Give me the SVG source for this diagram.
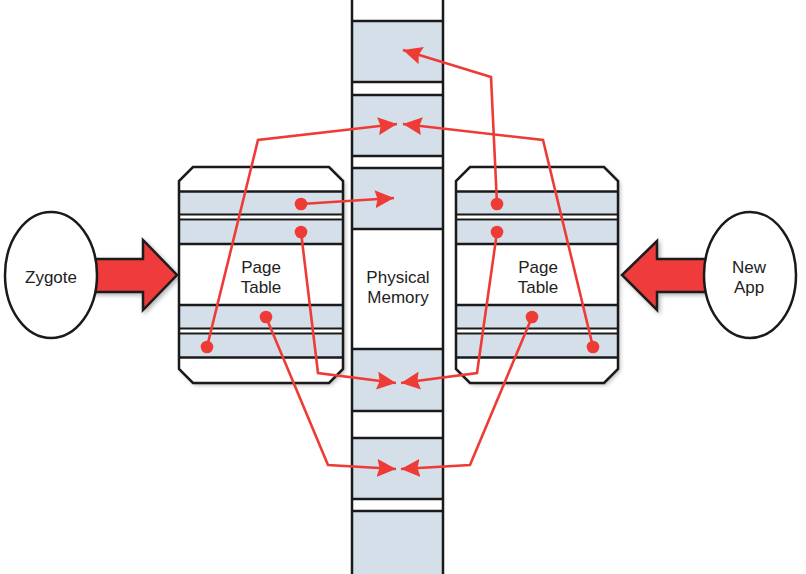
<svg xmlns="http://www.w3.org/2000/svg" width="806" height="574" viewBox="0 0 806 574">
<defs>
<style>
.blk{fill:none;stroke:#1a1a1a;stroke-width:2.5}
.ln{stroke:#1a1a1a;stroke-width:2.5}
.ln2{stroke:#1a1a1a;stroke-width:2}
.blue{fill:#d4dfea}
.wh{fill:#ffffff}
.txt{font-family:"Liberation Sans",Arial,sans-serif;font-size:17px;fill:#222;text-anchor:middle}
.con{fill:none;stroke:#ee3b35;stroke-width:2.6;stroke-linejoin:miter}
.dot{fill:#ee3b35}
.big{fill:#ef3b3a;stroke:#1a1a1a;stroke-width:2.5;stroke-linejoin:miter}
</style>
<marker id="ah" markerUnits="userSpaceOnUse" markerWidth="20" markerHeight="18" viewBox="0 0 20 18" refX="19" refY="9" orient="auto">
<path d="M0,0 L19,9 L0,18 L2.5,9 Z" fill="#ee3b35"/>
</marker>
<filter id="sh" x="-10%" y="-10%" width="130%" height="130%">
<feDropShadow dx="2" dy="2" stdDeviation="2" flood-color="#000" flood-opacity="0.3"/>
</filter>
</defs>

<g id="physical-memory">
<rect x="352" y="0" width="91" height="574" class="wh"/>
<rect x="352" y="21" width="91" height="61" class="blue"/>
<rect x="352" y="95" width="91" height="61" class="blue"/>
<rect x="352" y="168" width="91" height="61" class="blue"/>
<rect x="352" y="349" width="91" height="62" class="blue"/>
<rect x="352" y="438" width="91" height="61" class="blue"/>
<rect x="352" y="511" width="91" height="63" class="blue"/>
<g class="ln">
<line x1="352" y1="21" x2="443" y2="21"/>
<line x1="352" y1="82" x2="443" y2="82"/>
<line x1="352" y1="95" x2="443" y2="95"/>
<line x1="352" y1="156" x2="443" y2="156"/>
<line x1="352" y1="168" x2="443" y2="168"/>
<line x1="352" y1="229" x2="443" y2="229"/>
<line x1="352" y1="349" x2="443" y2="349"/>
<line x1="352" y1="411" x2="443" y2="411"/>
<line x1="352" y1="438" x2="443" y2="438"/>
<line x1="352" y1="499" x2="443" y2="499"/>
<line x1="352" y1="511" x2="443" y2="511"/>
</g>
<rect x="352" y="-2" width="91" height="578" class="blk"/>
<text class="txt" x="398" y="283">Physical</text>
<text class="txt" x="398" y="303">Memory</text>
</g>

<g id="zygote-arrow">
<polygon class="big" filter="url(#sh)" points="88,259 143,259 143,240 177,275 143,310 143,292 88,292"/>
</g>
<g id="newapp-arrow">
<polygon class="big" filter="url(#sh)" points="712,259 657,259 657,241 622,275 657,310 657,292 712,292"/>
</g>

<g id="zygote">
<ellipse cx="51" cy="275" rx="46" ry="63" fill="#fff" stroke="#1a1a1a" stroke-width="2.5"/>
<text class="txt" x="51" y="283">Zygote</text>
</g>

<g id="new-app">
<ellipse cx="750" cy="275" rx="46" ry="63" fill="#fff" stroke="#1a1a1a" stroke-width="2.5"/>
<text class="txt" x="749" y="273">New</text>
<text class="txt" x="749" y="293">App</text>
</g>

<g id="page-table-left">
<path d="M193,167 L329,167 L343,181 L343,369 L329,383 L193,383 L179,369 L179,181 Z" class="wh" filter="url(#sh)"/>
<rect x="179" y="192" width="164" height="22" class="blue"/>
<rect x="179" y="220.5" width="164" height="23.5" class="blue"/>
<rect x="179" y="305" width="164" height="23" class="blue"/>
<rect x="179" y="334.5" width="164" height="23" class="blue"/>
<g class="ln">
<line x1="179" y1="191.5" x2="343" y2="191.5"/>
<line x1="179" y1="244" x2="343" y2="244"/>
<line x1="179" y1="305" x2="343" y2="305"/>
<line x1="179" y1="357.5" x2="343" y2="357.5"/>
</g>
<g class="ln2">
<line x1="179" y1="214.5" x2="343" y2="214.5"/>
<line x1="179" y1="219.5" x2="343" y2="219.5"/>
<line x1="179" y1="328.5" x2="343" y2="328.5"/>
<line x1="179" y1="333.5" x2="343" y2="333.5"/>
</g>
<path d="M193,167 L329,167 L343,181 L343,369 L329,383 L193,383 L179,369 L179,181 Z" class="blk"/>
<text class="txt" x="261" y="273">Page</text>
<text class="txt" x="261" y="293">Table</text>
</g>

<g id="page-table-right">
<path d="M470,167 L604,167 L618,181 L618,369 L604,383 L470,383 L456,369 L456,181 Z" class="wh" filter="url(#sh)"/>
<rect x="456" y="192" width="162" height="22" class="blue"/>
<rect x="456" y="220.5" width="162" height="23.5" class="blue"/>
<rect x="456" y="305" width="162" height="23" class="blue"/>
<rect x="456" y="334.5" width="162" height="23" class="blue"/>
<g class="ln">
<line x1="456" y1="191.5" x2="618" y2="191.5"/>
<line x1="456" y1="244" x2="618" y2="244"/>
<line x1="456" y1="305" x2="618" y2="305"/>
<line x1="456" y1="357.5" x2="618" y2="357.5"/>
</g>
<g class="ln2">
<line x1="456" y1="214.5" x2="618" y2="214.5"/>
<line x1="456" y1="219.5" x2="618" y2="219.5"/>
<line x1="456" y1="328.5" x2="618" y2="328.5"/>
<line x1="456" y1="333.5" x2="618" y2="333.5"/>
</g>
<path d="M470,167 L604,167 L618,181 L618,369 L604,383 L470,383 L456,369 L456,181 Z" class="blk"/>
<text class="txt" x="538" y="273">Page</text>
<text class="txt" x="538" y="293">Table</text>
</g>

<g id="connectors">
<polyline class="con" marker-end="url(#ah)" points="497,204 491,77 403,50"/>
<polyline class="con" marker-end="url(#ah)" points="207,347 258,140 397,124"/>
<polyline class="con" marker-end="url(#ah)" points="593,347 543,140 403,124"/>
<polyline class="con" marker-end="url(#ah)" points="301,204 394,198"/>
<polyline class="con" marker-end="url(#ah)" points="301,232 318,373 396,383"/>
<polyline class="con" marker-end="url(#ah)" points="497,232 477,373 401,383"/>
<polyline class="con" marker-end="url(#ah)" points="266,317 328,465 396,469"/>
<polyline class="con" marker-end="url(#ah)" points="532,317 470,465 401,469"/>
<circle class="dot" cx="301" cy="204" r="6.3"/>
<circle class="dot" cx="301" cy="232" r="6.3"/>
<circle class="dot" cx="266" cy="317" r="6.3"/>
<circle class="dot" cx="207" cy="347" r="6.3"/>
<circle class="dot" cx="497" cy="204" r="6.3"/>
<circle class="dot" cx="497" cy="232" r="6.3"/>
<circle class="dot" cx="532" cy="317" r="6.3"/>
<circle class="dot" cx="593" cy="347" r="6.3"/>
</g>
</svg>
